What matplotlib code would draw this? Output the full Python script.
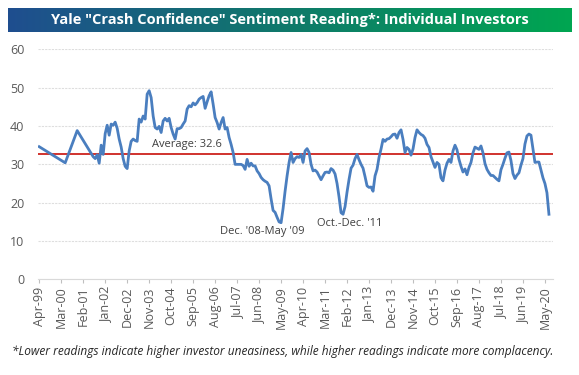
import numpy as np
import pandas as pd
import matplotlib
matplotlib.use("Agg")
import matplotlib.pyplot as plt
from matplotlib.colors import LinearSegmentedColormap

plt.rcParams['font.family'] = ['Open Sans', 'DejaVu Sans']

# tick labels on the x axis (every 11 months)
tick_labels = ['Apr-99', 'Mar-00', 'Feb-01', 'Jan-02', 'Dec-02', 'Nov-03', 'Oct-04',
               'Sep-05', 'Aug-06', 'Jul-07', 'Jun-08', 'May-09', 'Apr-10', 'Mar-11',
               'Feb-12', 'Jan-13', 'Dec-13', 'Nov-14', 'Oct-15', 'Sep-16', 'Aug-17',
               'Jul-18', 'Jun-19', 'May-20']

# early readings were sparse
early_months = ['1999-04', '2000-05', '2000-11']
early_values = [34.6, 30.4, 38.8]

# monthly readings from Jul-01 on
monthly_start = '2001-07'
monthly_values = [
    32.0, 31.5, 32.5, 30.3, 35.0, 32.6, 38.0, 40.2, 37.6, 40.5,
    40.2, 41.0, 39.4, 36.6, 34.5, 31.5, 29.5, 28.9, 33.5, 36.0,
    36.6, 36.2, 36.0, 41.8, 41.0, 42.6, 41.8, 48.3, 49.2, 47.4,
    42.6, 39.6, 39.2, 39.9, 38.3, 41.3, 42.0, 41.3, 42.0, 39.6,
    37.9, 36.6, 39.3, 39.3, 39.6, 40.5, 41.3, 44.4, 45.3, 45.0,
    46.0, 45.5, 46.1, 47.0, 47.4, 47.7, 44.6, 46.3, 47.9, 48.9,
    45.7, 42.2, 40.9, 39.2, 40.9, 42.2, 39.2, 39.6, 37.0, 35.2,
    33.1, 30.0, 30.0, 30.0, 30.0, 29.7, 28.7, 31.3, 29.5, 30.3,
    29.6, 29.6, 28.3, 27.6, 26.6, 26.0, 25.6, 25.3, 24.4, 21.0,
    18.0, 17.5, 16.2, 15.0, 14.8, 18.5, 23.0, 27.0, 30.5, 33.1,
    30.5, 31.5, 32.0, 31.8, 32.6, 30.5, 33.5, 34.1, 33.1, 30.0,
    28.3, 28.5, 28.0, 27.0, 26.0, 27.0, 27.9, 28.0, 27.8, 28.9,
    28.5, 27.5, 25.0, 21.5, 17.4, 17.0, 19.0, 22.8, 26.1, 29.0,
    29.8, 31.5, 32.6, 31.2, 30.0, 29.0, 26.8, 24.4, 24.0, 24.1,
    23.0, 27.0, 28.7, 31.8, 34.0, 36.5, 36.0, 36.6, 36.7, 37.2,
    37.8, 37.9, 36.8, 38.3, 39.0, 36.5, 33.1, 34.4, 33.9, 32.4,
    34.0, 37.0, 39.0, 38.3, 37.8, 37.5, 36.8, 35.2, 34.4, 32.0,
    30.6, 29.2, 30.5, 30.0, 26.5, 25.7, 28.5, 30.3, 31.3, 30.5,
    33.5, 35.0, 33.8, 31.3, 29.5, 28.0, 28.8, 27.3, 29.2, 30.5,
    33.0, 34.5, 34.2, 33.9, 34.8, 33.0, 30.2, 28.7, 27.8, 27.1,
    27.1, 26.6, 26.1, 25.7, 28.6, 30.0, 31.6, 33.0, 33.2, 31.0,
    27.6, 26.3, 27.2, 27.8, 29.8, 31.5, 35.3, 37.4, 37.9, 37.6,
    34.0, 30.5, 30.6, 30.6, 28.5, 26.5, 25.0, 22.6, 17.0,
]

average = 32.6

def month_index(p):
    return (p.year - 1999) * 12 + p.month - 4

monthly_periods = pd.period_range(monthly_start, periods=len(monthly_values), freq='M')
periods = [pd.Period(m, freq='M') for m in early_months] + list(monthly_periods)
x = np.array([month_index(p) for p in periods])
y = np.array(early_values + monthly_values)

tick_pos = [month_index(pd.Period(pd.to_datetime(t, format='%b-%y'), freq='M')) for t in tick_labels]

fig = plt.figure(figsize=(5.79, 3.75), dpi=100)

# title banner with blue->green gradient
bax = fig.add_axes([8 / 579, 1 - 32 / 375, 564 / 579, 24 / 375])
cmap = LinearSegmentedColormap.from_list('banner', ['#1f4e8f', '#0f7a6a', '#00a651'])
bax.imshow(np.linspace(0, 1, 256).reshape(1, -1), aspect='auto', cmap=cmap)
bax.axis('off')
bax.text(0.5, 0.5, 'Yale "Crash Confidence" Sentiment Reading*: Individual Investors',
         transform=bax.transAxes, ha='center', va='center', color='white',
         fontsize=10.5, fontweight='bold')

ax = fig.add_axes([0.066, 0.2547, 0.889, 0.614])
ax.plot(x, y, color='#4a7ebf', lw=2.0, zorder=3)
ax.axhline(average, color='#d0322d', lw=1.4, zorder=2)

ax.set_ylim(0, 60)
ax.set_xlim(-0.5, 257)
ax.set_yticks(range(0, 61, 10))
ax.set_xticks(tick_pos)
ax.set_xticklabels(tick_labels, rotation=90)
ax.tick_params(axis='y', length=0, labelsize=9, labelcolor='#595959', pad=10)
ax.tick_params(axis='x', length=3, color='#bfbfbf', labelsize=9, labelcolor='#595959', pad=2)
ax.grid(axis='y', color='#dedede', lw=0.8, ls=(0, (2, 1)))
for s in ['top', 'right', 'left']:
    ax.spines[s].set_visible(False)
ax.spines['bottom'].set_color('#d9d9d9')
ax.set_axisbelow(True)

ax.text(74, 35.1, 'Average: 32.6', ha='center', va='center', fontsize=8, color='#404040')
ax.text(111.4, 12.5, "Dec. '08-May '09", ha='center', va='center', fontsize=8, color='#404040')
ax.text(155.5, 14.6, "Oct.-Dec. '11", ha='center', va='center', fontsize=8, color='#404040')

fig.text(0.488, 1 - 352 / 375,
         '*Lower readings indicate higher investor uneasiness, while higher readings indicate more complacency.',
         ha='center', va='center', fontsize=8.6, style='italic', color='#262626')

fig.savefig('out.png', dpi=100)
